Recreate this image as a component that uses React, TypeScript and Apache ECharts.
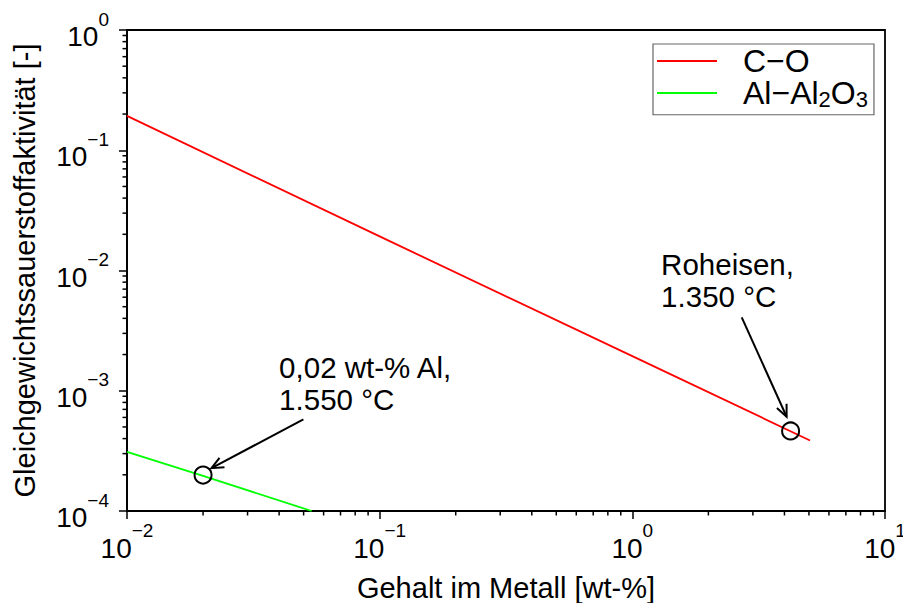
import React, { useEffect, useRef } from 'react';
import * as echarts from 'echarts';

// ---- data ----
const seriesNames = ['C−O', 'Al−Al2O3'];
const coLine = [[0.01, 0.193], [0.1, 0.0192], [1, 0.00194], [5.05, 0.000386]];
const alLine = [[0.01, 0.00031], [0.02, 0.000196], [0.0538, 0.0001]];
const markerPoints = [[4.23, 0.000463], [0.02, 0.000199]];
const arrowSegments = [[2.71, 0.00408, 4.08, 0.000608], [0.0499, 0.000579, 0.0216, 0.000227]];
const annotationTexts = ['Roheisen,\n1.350 °C', '0,02 wt-% Al,\n1.550 °C'];
const annotationAnchors = [[1.3, 0.0151], [0.04, 0.00212]];

// axis ticks
const xMajorTicks = [0.01, 0.1, 1, 10];
const yMajorTicks = [0.0001, 0.001, 0.01, 0.1, 1];
const minorMultipliers = [2, 3, 4, 5, 6, 7, 8, 9];

const FONT = '"Liberation Sans", Arial, Helvetica, sans-serif';

const xMinorTicks: number[][] = [];
xMajorTicks.slice(0, -1).forEach((d) => minorMultipliers.forEach((m) => xMinorTicks.push([d * m, 0.0001])));
const yMinorTicks: number[][] = [];
yMajorTicks.slice(0, -1).forEach((d) => minorMultipliers.forEach((m) => yMinorTicks.push([0.01, d * m])));

function powLabel(v: number) {
  const e = Math.round(Math.log10(v));
  const s = e < 0 ? '−' + -e : String(e);
  return '{b|10}{s|' + s + '}';
}

const labelRich = {
  b: { fontSize: 28, lineHeight: 41, verticalAlign: 'bottom', color: '#000', fontFamily: FONT },
  s: { fontSize: 19, lineHeight: 20, verticalAlign: 'top', color: '#000', fontFamily: FONT },
};

export default function App() {
  const ref = useRef<HTMLDivElement>(null);
  useEffect(() => {
    if (!ref.current) return;
    const chart = echarts.init(ref.current, undefined, { renderer: 'svg' });
    const option: any = {
      animation: false,
      backgroundColor: '#fff',
      grid: {
        left: 127, right: 18, top: 30, bottom: 92,
        outerBoundsMode: 'none',
        containLabel: false,
        show: true, borderColor: '#000', borderWidth: 1.8, backgroundColor: 'transparent',
      },
      legend: {
        data: seriesNames,
        orient: 'vertical',
        left: 653,
        top: 44,
        padding: [1, 6, 4, 4],
        itemGap: 0,
        itemWidth: 60,
        itemHeight: 2,
        icon: 'rect',
        borderColor: '#666',
        borderWidth: 1.2,
        backgroundColor: '#fff',
        formatter: (name: string) => '{a|' + name.replace(/(\d)/g, '}{s|$1}{a|') + '}',
        textStyle: {
          padding: [0, 0, 0, 21],
          rich: {
            a: { fontSize: 32, lineHeight: 35.5, color: '#000', fontFamily: FONT },
            s: { fontSize: 22, lineHeight: 21, verticalAlign: 'bottom', color: '#000', fontFamily: FONT },
          },
        },
      },
      xAxis: {
        type: 'log',
        logBase: 10,
        min: 0.01,
        max: 10,
        name: 'Gehalt im Metall [wt-%]',
        nameLocation: 'middle',
        nameGap: 62,
        nameTextStyle: { fontSize: 29, color: '#000', fontFamily: FONT },
        axisLine: { lineStyle: { color: '#000', width: 1.8 } },
        axisTick: { show: true, inside: false, length: 8, lineStyle: { color: '#000', width: 1.5 } },
        splitLine: { show: false },
        axisLabel: { formatter: powLabel, margin: 10, rich: labelRich, showMinLabel: true, showMaxLabel: true, hideOverlap: false },
      },
      yAxis: {
        type: 'log',
        logBase: 10,
        min: 0.0001,
        max: 1,
        name: 'Gleichgewichtssauerstoffaktivität [-]',
        nameLocation: 'middle',
        nameGap: 88,
        nameTextStyle: { fontSize: 29, color: '#000', fontFamily: FONT },
        axisLine: { lineStyle: { color: '#000', width: 1.8 } },
        axisTick: { show: true, inside: false, length: 8, lineStyle: { color: '#000', width: 1.5 } },
        splitLine: { show: false },
        axisLabel: { formatter: powLabel, margin: 18, rich: labelRich, showMinLabel: true, showMaxLabel: true, hideOverlap: false },
      },
      series: [
        {
          name: seriesNames[0],
          type: 'line',
          data: coLine,
          showSymbol: false,
          symbol: 'none',
          lineStyle: { color: '#ff0000', width: 1.8 },
          itemStyle: { color: '#ff0000' },
          z: 3,
        },
        {
          name: seriesNames[1],
          type: 'line',
          data: alLine,
          showSymbol: false,
          symbol: 'none',
          lineStyle: { color: '#00ff00', width: 1.8 },
          itemStyle: { color: '#00ff00' },
          z: 3,
        },
        {
          name: 'Punkte',
          type: 'scatter',
          data: markerPoints,
          symbol: 'circle',
          symbolSize: 17,
          itemStyle: { color: 'rgba(255,255,255,0)', borderColor: '#000', borderWidth: 2, opacity: 1 },
          z: 4,
        },
        {
          name: 'Pfeile',
          type: 'custom',
          clip: false,
          data: arrowSegments,
          encode: { x: [0, 2], y: [1, 3] },
          renderItem: (params: any, api: any) => {
            const a = api.coord([api.value(0), api.value(1)]);
            const b = api.coord([api.value(2), api.value(3)]);
            const ang = Math.atan2(b[1] - a[1], b[0] - a[0]);
            const hl = 13;
            const hw = 0.42;
            const h1 = [b[0] - hl * Math.cos(ang - hw), b[1] - hl * Math.sin(ang - hw)];
            const h2 = [b[0] - hl * Math.cos(ang + hw), b[1] - hl * Math.sin(ang + hw)];
            return {
              type: 'group',
              children: [
                { type: 'line', shape: { x1: a[0], y1: a[1], x2: b[0], y2: b[1] }, style: { stroke: '#000', lineWidth: 2 } },
                { type: 'polyline', shape: { points: [h1, b, h2] }, style: { stroke: '#000', lineWidth: 2, fill: 'none' } },
              ],
            };
          },
          z: 5,
        },
        {
          name: 'Beschriftung',
          type: 'custom',
          clip: false,
          data: annotationAnchors,
          encode: { x: 0, y: 1 },
          renderItem: (params: any, api: any) => {
            const p = api.coord([api.value(0), api.value(1)]);
            return {
              type: 'text',
              x: p[0],
              y: p[1],
              style: {
                text: annotationTexts[params.dataIndex],
                fontSize: 29.5,
                fontFamily: FONT,
                fill: '#000',
                align: 'left',
                verticalAlign: 'top',
                textAlign: 'left',
                textVerticalAlign: 'top',
                lineHeight: 32,
              },
            };
          },
          z: 5,
        },
        {
          name: 'xMinor',
          type: 'custom',
          clip: false,
          data: xMinorTicks,
          encode: { x: 0, y: 1 },
          renderItem: (params: any, api: any) => {
            const p = api.coord([api.value(0), api.value(1)]);
            return { type: 'line', shape: { x1: p[0], y1: p[1], x2: p[0], y2: p[1] + 4.5 }, style: { stroke: '#000', lineWidth: 1.5 } };
          },
          z: 6,
        },
        {
          name: 'yMinor',
          type: 'custom',
          clip: false,
          data: yMinorTicks,
          encode: { x: 0, y: 1 },
          renderItem: (params: any, api: any) => {
            const p = api.coord([api.value(0), api.value(1)]);
            return { type: 'line', shape: { x1: p[0] - 4.5, y1: p[1], x2: p[0], y2: p[1] }, style: { stroke: '#000', lineWidth: 1.5 } };
          },
          z: 6,
        },
      ],
    };
    chart.setOption(option);
    return () => chart.dispose();
  }, []);
  return <div ref={ref} style={{ position: 'fixed', left: 0, top: 0, width: 903, height: 603, background: '#fff' }} />;
}
